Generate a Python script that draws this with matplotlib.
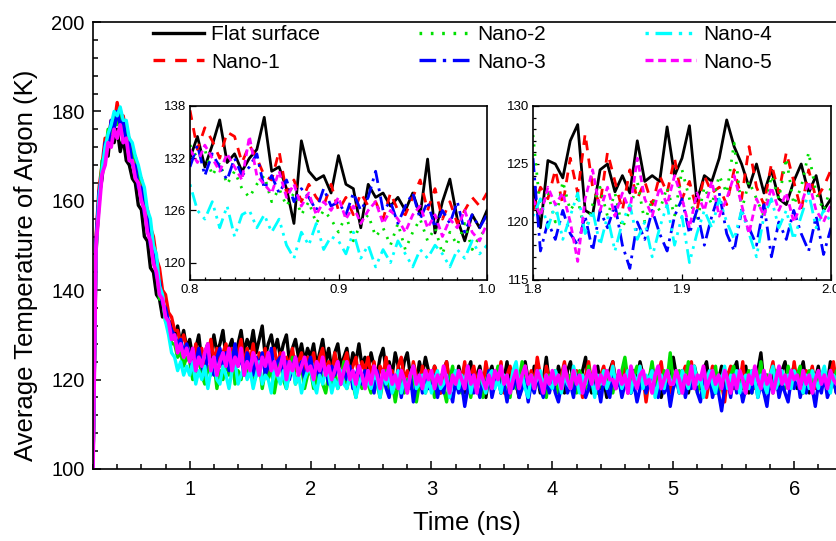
import numpy as np
import matplotlib.pyplot as plt
import matplotlib.ticker as ticker

plt.rcParams["font.family"] = ["Liberation Sans", "DejaVu Sans"]

#Series names
labels = ["Flat surface", "Nano-1", "Nano-2", "Nano-3", "Nano-4", "Nano-5"]

#Main plot: heating peak (0.2 - 0.975 ns, step 0.025 ns)
rise_flat = [100, 148, 161, 165, 172, 170, 177, 173, 176, 171, 174, 169, 168, 165, 164, 159,
             158, 152, 151, 145, 144, 139, 138, 134, 135, 131, 133, 129, 132, 128, 131, 127]
rise_n1 = [100, 152, 163, 168, 174, 173, 178, 177, 182, 178, 179, 175, 174, 170, 170, 165,
           165, 160, 158, 154, 152, 147, 145, 140, 139, 135, 134, 131, 131, 128, 130, 127]
rise_n2 = [100, 150, 159, 169, 170, 176, 175, 179, 177, 180, 175, 176, 170, 171, 166, 166,
           160, 160, 153, 153, 146, 145, 138, 138, 133, 132, 128, 128, 125, 126, 123, 125]
rise_n3 = [100, 151, 162, 166, 173, 172, 178, 176, 180, 177, 178, 173, 173, 168, 168, 163,
           163, 157, 156, 150, 149, 143, 142, 137, 136, 133, 131, 130, 128, 129, 126, 128]
rise_n4 = [100, 149, 161, 167, 172, 175, 177, 180, 179, 181, 178, 178, 174, 173, 170, 168,
           165, 163, 158, 156, 150, 148, 141, 139, 133, 130, 126, 125, 122, 124, 121, 123]
rise_n5 = [100, 150, 158, 166, 168, 173, 172, 176, 174, 177, 173, 174, 169, 169, 165, 164,
           160, 158, 153, 151, 146, 144, 139, 138, 134, 133, 129, 130, 126, 128, 125, 127]

#Main plot: relaxation (1.0 - 6.4 ns, step 0.025 ns), one row per 0.5 ns
tail_flat = [129, 125, 127, 130, 124, 126, 128, 125, 130, 126, 128, 131, 125, 127, 129, 124, 128, 131, 126, 129,
             127, 131, 126, 129, 132, 125, 128, 130, 126, 129, 125, 128, 130, 124, 127, 129, 125, 128, 124, 127,
             125, 128, 123, 126, 129, 124, 127, 122, 126, 128, 123, 125, 127, 122, 126, 124, 128, 123, 125, 122,
             126, 123, 121, 125, 127, 122, 124, 121, 126, 123, 120, 124, 126, 121, 123, 119, 124, 121, 125, 122,
             119, 123, 121, 117, 122, 124, 119, 121, 118, 123, 120, 117, 122, 124, 118, 121, 123, 119, 116, 121,
             123, 119, 122, 117, 120, 124, 118, 121, 119, 116, 122, 124, 120, 118, 123, 121, 117, 120, 125, 119,
             121, 118, 123, 120, 117, 122, 124, 119, 121, 118, 122, 125, 119, 117, 121, 123, 118, 120, 116, 122,
             124, 119, 121, 118, 123, 120, 117, 122, 119, 124, 121, 117, 120, 123, 118, 121, 116, 119, 122, 120,
             125, 121, 118, 122, 119, 117, 121, 123, 120, 118, 122, 124, 119, 121, 117, 120, 123, 119, 121, 118,
             122, 124, 118, 120, 123, 117, 121, 119, 122, 126, 119, 121, 118, 123, 120, 117, 122, 124, 119, 121,
             123, 118, 121, 124, 119, 117, 122, 120, 123, 118, 121, 119, 124, 120, 117, 122, 121]
tail_n1 = [126, 123, 128, 124, 127, 122, 125, 129, 124, 127, 123, 126, 128, 124, 127, 122, 126, 129, 123, 127,
           124, 128, 122, 126, 124, 127, 121, 125, 127, 123, 126, 121, 125, 123, 127, 122, 124, 126, 121, 125,
           123, 126, 121, 125, 127, 122, 124, 121, 126, 123, 120, 124, 126, 121, 123, 125, 120, 124, 122, 125,
           121, 124, 119, 123, 121, 125, 120, 122, 118, 123, 125, 120, 122, 119, 124, 121, 118, 123, 120, 122,
           119, 123, 121, 117, 122, 124, 119, 121, 118, 122, 120, 124, 117, 121, 123, 119, 121, 118, 124, 120,
           118, 122, 120, 124, 117, 121, 123, 119, 121, 116, 120, 123, 118, 122, 119, 125, 121, 118, 123, 120,
           119, 122, 117, 121, 124, 119, 121, 118, 122, 120, 116, 121, 124, 119, 122, 117, 121, 123, 119, 120,
           124, 118, 121, 119, 123, 117, 122, 120, 118, 123, 121, 115, 120, 122, 118, 121, 124, 119, 121, 117,
           119, 122, 117, 121, 123, 119, 124, 118, 121, 119, 122, 116, 120, 123, 118, 121, 119, 115, 121, 123,
           118, 121, 119, 124, 117, 120, 122, 118, 121, 123, 119, 117, 121, 124, 118, 120, 122, 119, 121, 118,
           124, 119, 121, 117, 122, 120, 123, 118, 121, 119, 122, 117, 121, 124, 119, 122, 123]
tail_n2 = [124, 120, 122, 125, 121, 119, 123, 121, 124, 118, 122, 120, 124, 121, 126, 119, 122, 120, 124, 121,
           123, 119, 121, 124, 118, 122, 120, 123, 117, 121, 124, 120, 118, 122, 125, 119, 121, 123, 118, 121,
           122, 118, 120, 123, 119, 117, 121, 119, 122, 118, 120, 124, 118, 121, 119, 116, 121, 118, 122, 119,
           117, 121, 119, 116, 120, 122, 118, 120, 115, 119, 121, 117, 120, 118, 122, 115, 119, 121, 117, 120,
           121, 116, 119, 121, 118, 115, 120, 123, 118, 121, 117, 119, 122, 116, 120, 118, 121, 116, 119, 122,
           118, 120, 123, 117, 121, 119, 116, 122, 118, 120, 124, 119, 117, 121, 119, 122, 118, 120, 116, 121,
           119, 122, 117, 120, 123, 118, 121, 119, 117, 122, 120, 118, 123, 119, 121, 117, 120, 122, 119, 121,
           117, 121, 119, 122, 125, 120, 118, 121, 123, 119, 121, 117, 120, 124, 119, 121, 118, 122, 120, 126,
           119, 121, 122, 118, 120, 124, 119, 121, 117, 120, 122, 118, 121, 119, 123, 117, 120, 122, 118, 121,
           123, 119, 121, 118, 120, 122, 117, 121, 119, 124, 118, 121, 120, 117, 122, 119, 121, 118, 123, 120,
           119, 121, 123, 117, 120, 122, 118, 121, 120, 119, 122, 118, 121, 119, 122, 120, 121]
tail_n3 = [125, 122, 124, 127, 123, 121, 126, 124, 121, 125, 127, 123, 126, 122, 124, 128, 123, 125, 121, 126,
           124, 121, 125, 123, 126, 121, 123, 127, 122, 124, 125, 121, 124, 120, 123, 125, 122, 124, 120, 123,
           125, 121, 123, 120, 124, 122, 119, 123, 121, 124, 119, 122, 120, 123, 118, 121, 123, 119, 122, 120,
           120, 117, 122, 119, 121, 118, 116, 121, 119, 122, 116, 120, 118, 121, 115, 119, 121, 117, 120, 118,
           118, 121, 116, 119, 117, 121, 118, 115, 120, 117, 119, 114, 118, 121, 117, 119, 116, 120, 118, 122,
           116, 119, 121, 117, 119, 115, 120, 118, 121, 116, 118, 120, 115, 119, 117, 121, 118, 116, 120, 117,
           120, 117, 115, 119, 121, 117, 119, 116, 121, 118, 120, 116, 118, 121, 117, 119, 115, 120, 118, 116,
           121, 118, 120, 116, 119, 121, 117, 119, 115, 118, 120, 117, 119, 122, 118, 116, 120, 117, 119, 114,
           118, 120, 117, 121, 116, 119, 118, 121, 117, 115, 120, 118, 121, 116, 119, 117, 113, 118, 120, 116,
           121, 117, 119, 115, 118, 120, 117, 121, 116, 119, 117, 114, 120, 118, 121, 116, 119, 117, 115, 120,
           118, 121, 116, 119, 117, 120, 118, 114, 119, 117, 121, 116, 118, 120, 117, 119, 118]
tail_n4 = [121, 124, 119, 122, 120, 123, 118, 122, 125, 120, 119, 123, 121, 118, 122, 124, 119, 121, 123, 120,
           122, 118, 121, 124, 119, 121, 120, 117, 123, 121, 119, 122, 118, 121, 123, 119, 121, 117, 120, 122,
           122, 119, 117, 121, 119, 122, 121, 117, 120, 118, 122, 119, 118, 121, 120, 116, 119, 121, 118, 120,
           118, 121, 120, 116, 122, 119, 121, 117, 119, 122, 117, 120, 118, 121, 123, 118, 119, 121, 117, 120,
           117, 120, 122, 118, 119, 121, 116, 120, 122, 118, 121, 119, 123, 117, 120, 118, 122, 119, 117, 121,
           122, 118, 120, 117, 121, 119, 118, 122, 124, 119, 121, 118, 116, 121, 119, 120, 122, 118, 121, 119,
           118, 122, 120, 117, 121, 119, 118, 123, 120, 117, 121, 119, 122, 120, 116, 121, 119, 122, 118, 120,
           123, 119, 121, 118, 120, 122, 117, 121, 119, 123, 118, 121, 120, 122, 116, 119, 121, 118, 122, 120,
           119, 121, 117, 122, 120, 118, 121, 123, 119, 121, 116, 120, 122, 119, 117, 121, 120, 123, 118, 121,
           119, 122, 117, 120, 121, 118, 122, 120, 116, 121, 119, 117, 121, 123, 118, 120, 122, 119, 121, 118,
           122, 120, 119, 117, 121, 118, 122, 120, 118, 121, 123, 119, 117, 121, 120, 118, 120]
tail_n5 = [124, 127, 122, 125, 123, 126, 128, 122, 125, 121, 124, 126, 123, 127, 122, 125, 123, 127, 121, 124,
           122, 126, 124, 121, 125, 123, 126, 122, 124, 121, 123, 126, 120, 124, 122, 125, 121, 123, 125, 122,
           123, 120, 124, 122, 125, 121, 123, 120, 122, 124, 119, 122, 124, 120, 122, 119, 123, 121, 118, 122,
           119, 123, 121, 118, 122, 120, 123, 119, 121, 118, 122, 120, 117, 121, 123, 119, 121, 118, 122, 120,
           122, 118, 121, 119, 123, 120, 117, 121, 119, 122, 120, 118, 123, 119, 121, 117, 122, 120, 118, 121,
           118, 122, 120, 123, 119, 121, 117, 120, 122, 118, 121, 123, 119, 121, 118, 122, 120, 117, 121, 119,
           122, 119, 121, 118, 123, 120, 118, 122, 119, 121, 117, 120, 122, 119, 123, 118, 121, 119, 122, 120,
           120, 118, 122, 119, 121, 117, 123, 120, 118, 121, 122, 119, 120, 117, 121, 123, 118, 120, 122, 119,
           119, 122, 120, 117, 121, 119, 123, 118, 121, 120, 123, 118, 120, 122, 119, 121, 118, 122, 120, 117,
           121, 118, 122, 120, 117, 121, 119, 123, 120, 118, 122, 119, 121, 117, 120, 123, 119, 121, 118, 122,
           120, 121, 118, 122, 119, 121, 117, 120, 122, 119, 121, 118, 122, 120, 119, 121, 120]

#Inset 1 (0.8 - 1.0 ns, step 0.005 ns)
in1_flat = [132, 134.5, 131, 133.5, 136.4, 131.5, 132.5, 130.5, 132, 133, 136.7, 130.5, 131, 128.5, 124.5,
            134, 130.5, 129.5, 130, 128, 132.3, 129, 128.5, 124, 129, 127.5, 128, 126.5, 127.5, 126, 128,
            125.5, 131.9, 123.4, 127, 129.6, 125, 122.5, 125.5, 124, 126]
in1_n1 = [137.5, 133, 135.5, 134, 132, 135, 134.5, 131.5, 133.5, 132, 130, 129.5, 132.8, 128, 129.5,
          127, 129, 127.5, 126.5, 129, 126, 127.5, 125.5, 128, 126.5, 127, 125, 128, 126, 125.5, 127.5,
          129.5, 126, 128.5, 125, 127, 124.5, 126, 127.5, 126.5, 128]
in1_n2 = [133.5, 132, 133, 130, 131.5, 129, 130.5, 128.5, 127.5, 129, 130, 127, 128.5, 126.5, 128,
          125.5, 127, 124.5, 126, 125, 123.5, 125.5, 122.5, 124.5, 125.5, 123, 124, 122, 124.5, 121.5,
          123.5, 125, 122.5, 124, 121, 123.5, 122, 124.5, 121.5, 123, 124]
in1_n3 = [131, 133.5, 130, 132.5, 131, 129.5, 132, 130, 131, 132.5, 128.5, 130, 128, 129.5, 127,
          128.5, 127.5, 126, 128.5, 126.5, 127, 125.5, 128, 126, 127.5, 130.5, 126, 127, 124.5, 126.5,
          128, 125, 127, 124, 126, 124.5, 127, 123.5, 125.5, 124, 125.5]
in1_n4 = [129, 126, 125, 127, 124, 126.5, 123, 125.5, 126, 124, 125.5, 123.5, 125, 122, 120.5,
          123.5, 122, 124.5, 121.5, 123, 122.5, 121, 123.5, 120.5, 122, 119.5, 121.5, 120, 122.5, 121,
          119.5, 121.5, 120.5, 122, 121, 119.5, 121.5, 120.5, 122.5, 121, 122]
in1_n5 = [133, 131.5, 133.5, 132, 130.5, 132.5, 131, 129.5, 134.5, 130, 129, 128, 130.5, 127.5, 129,
          126.5, 128, 125.5, 127, 126, 127.5, 125, 126.5, 124.5, 126, 127, 124.5, 126, 125, 123.5,
          125.5, 126.5, 124, 125.5, 123, 125, 124, 126, 123.5, 122.5, 124.5]

#Inset 2 (1.8 - 2.0 ns, step 0.005 ns)
in2_flat = [123, 119.5, 125.3, 125, 123.8, 127, 128.4, 121, 120.6, 124.5, 125, 122.6, 124, 122.5, 127,
            123.5, 124, 123.5, 128.2, 124, 125.5, 128.3, 121.8, 124, 123.5, 125.5, 128.8, 126.5, 125,
            123, 125, 122.5, 124.5, 122, 121.5, 123.5, 125, 122.5, 124, 121, 122]
in2_n1 = [121, 123, 122, 124.5, 121.5, 125.5, 122.5, 127.6, 123, 121.5, 126, 123.5, 121, 124.5, 122,
          123.5, 121.5, 124, 122.5, 125.5, 122, 123.5, 121, 124, 122.5, 123, 121.5, 124.5, 122, 126.5,
          123, 121.5, 125, 122.5, 126, 123.5, 121, 124.5, 122, 123, 124.5]
in2_n2 = [127.5, 121, 122.5, 120, 123.5, 121, 122, 119, 121.5, 123, 120.5, 122.5, 119.5, 121, 123.5,
          120, 122, 121, 123, 120.5, 124.5, 122, 120, 123, 121.5, 124, 122.5, 126.8, 121, 123.5, 122,
          120.5, 124, 122, 125.5, 121.5, 123, 126, 122.5, 121, 123]
in2_n3 = [125.5, 117.5, 120, 118.5, 121, 119, 118, 120.5, 117.5, 121, 119.5, 121.5, 118, 116, 120,
          118.5, 121, 119, 117.5, 120.5, 122, 119, 121, 118, 120.5, 122.5, 119, 117.5, 121, 119.5, 118,
          121.5, 117, 120, 118.5, 121, 119, 117.5, 120.5, 117.2, 119.5]
in2_n4 = [120.5, 122, 119.5, 121.5, 118.5, 120.5, 122.5, 119, 121, 118, 120.5, 117.5, 120, 121.5, 118.5,
          120, 117, 119.5, 121.5, 118, 120.5, 116.5, 119, 121, 119.5, 122, 120, 118.5, 121, 119, 117,
          120.5, 122, 119.5, 121, 118.5, 120.5, 122.5, 119.5, 121, 120]
in2_n5 = [122, 120.5, 123, 121.5, 122.5, 120, 116.6, 122, 124.5, 121, 123, 120.5, 122.5, 121, 125.5,
          122, 120.5, 123, 121.5, 124, 122, 119.5, 122.5, 121, 123.5, 120.5, 122, 124, 121.5, 119, 122,
          120.5, 123, 121, 122.5, 120, 121.5, 123.5, 121, 120, 121.5]

main_series = [(rise_flat, tail_flat), (rise_n1, tail_n1), (rise_n2, tail_n2),
               (rise_n3, tail_n3), (rise_n4, tail_n4), (rise_n5, tail_n5)]
in1_series = [in1_flat, in1_n1, in1_n2, in1_n3, in1_n4, in1_n5]
in2_series = [in2_flat, in2_n1, in2_n2, in2_n3, in2_n4, in2_n5]

#Styles
colors = ["black", "red", "#00e000", "blue", "cyan", "magenta"]
dashes = [None, (3.5, 3), (0.8, 2.6), (5, 2, 1, 2), (1, 2, 5, 2, 1, 2), (2.4, 1.4)]


def draw_inset(ax, t0, series):
    lines = []
    for i, vals in enumerate(series):
        t = t0 + 0.005 * np.arange(len(vals))
        line, = ax.plot(t, vals, color=colors[i], lw=2, label=labels[i])
        if dashes[i] is not None:
            line.set_dashes(dashes[i])
        lines.append(line)
    return lines


fig = plt.figure(figsize=(8.37, 5.41), dpi=100)

#Main axes (right edge runs just past the figure); dense data reads as solid bands
ax = fig.add_axes([93 / 837, 1 - 469 / 541, 749.5 / 837, 447 / 541])
for i, (rise, tail) in enumerate(main_series):
    t = np.concatenate([0.2 + 0.025 * np.arange(len(rise)), 1.0 + 0.025 * np.arange(len(tail))])
    ax.plot(t, rise + tail, color=colors[i], lw=2.7 if i == 5 else 2.4)
ax.set_xlim(0.2, 6.4)
ax.set_ylim(100, 200)
ax.xaxis.set_major_locator(ticker.MultipleLocator(1))
ax.xaxis.set_minor_locator(ticker.MultipleLocator(0.2))
ax.yaxis.set_major_locator(ticker.MultipleLocator(20))
ax.yaxis.set_minor_locator(ticker.MultipleLocator(4))
ax.tick_params(which="both", direction="in", width=1.1, labelsize=14.5)
ax.tick_params(which="major", length=6)
ax.tick_params(which="minor", length=3.5)
ax.tick_params(axis="x", pad=8)
ax.tick_params(axis="y", pad=6)
for s in ax.spines.values():
    s.set_linewidth(1.2)
ax.set_xlabel("Time (ns)", fontsize=18.5)
ax.set_ylabel("Average Temperature of Argon (K)", fontsize=18.5)
ax.xaxis.set_label_coords(0.499, -0.095)
ax.yaxis.set_label_coords(-0.073, 0.455)

#Inset 1
ax1 = fig.add_axes([190 / 837, 1 - 280 / 541, 297 / 837, 174 / 541])
styled_lines = draw_inset(ax1, 0.8, in1_series)
ax1.set_xlim(0.8, 1.0)
ax1.set_ylim(118, 138)
ax1.set_xticks([0.8, 0.9, 1.0])
ax1.set_yticks([120, 126, 132, 138])
ax1.xaxis.set_minor_locator(ticker.MultipleLocator(0.01))

#Inset 2
ax2 = fig.add_axes([533 / 837, 1 - 280 / 541, 298 / 837, 174 / 541])
draw_inset(ax2, 1.8, in2_series)
ax2.set_xlim(1.8, 2.0)
ax2.set_ylim(115, 130)
ax2.set_xticks([1.8, 1.9, 2.0])
ax2.set_yticks([115, 120, 125, 130])
ax2.xaxis.set_minor_locator(ticker.MultipleLocator(0.01))
ax2.yaxis.set_minor_locator(ticker.MultipleLocator(1))

for a in (ax1, ax2):
    a.xaxis.set_major_formatter(ticker.FormatStrFormatter("%.1f"))
    a.tick_params(which="both", direction="in", labelsize=9.5, width=0.9, pad=3)
    a.tick_params(which="major", length=4)
    a.tick_params(which="minor", length=2.2)
    for s in a.spines.values():
        s.set_linewidth(1.2)

#Legend uses the styled inset lines so the dash patterns show
leg = ax.legend(handles=styled_lines, ncol=3, frameon=False, fontsize=15, loc="upper left",
                bbox_to_anchor=(153 / 837, 1 - 25 / 541), bbox_transform=fig.transFigure,
                borderpad=0, borderaxespad=0, handlelength=2.45, handletextpad=0.35,
                columnspacing=4.75, labelspacing=0.42)
for h in leg.get_lines():
    h.set_linewidth(2.4)

plt.savefig("out.png", dpi=100)
